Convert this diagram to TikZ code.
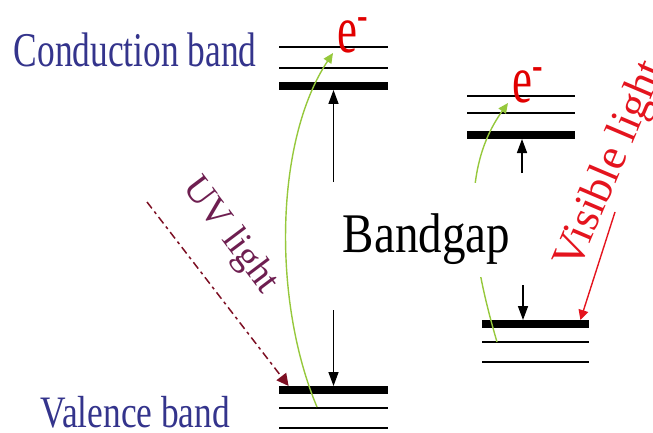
\documentclass[tikz,border=0pt]{standalone}
\usepackage{fontspec}
\setmainfont{Liberation Serif}
\usepackage{xcolor}
\usetikzlibrary{arrows.meta, calc}

\definecolor{bandblue}{RGB}{52,52,140}
\definecolor{uvpurple}{RGB}{110,30,80}
\definecolor{uvred}{RGB}{125,15,35}
\definecolor{visred}{RGB}{228,20,30}
\definecolor{elred}{RGB}{225,0,0}
\definecolor{exgreen}{RGB}{150,200,60}

\begin{document}
\begin{tikzpicture}[
    x=0.5pt,
    y=0.5pt,
    level/.style={rectangle, fill=black, inner sep=0pt, minimum width=54.5pt,
                  minimum height=1.2pt},
    edge/.style={level, minimum height=3.6pt},
    lbl/.style={inner sep=0pt, font=\fontsize{17.7}{20}\selectfont,
                text=bandblue},
    elec/.style={inner sep=2pt, font=\fontsize{22.5}{26}\selectfont,
                 text=elred},
    gaparrow/.style={-{Triangle[length=7pt, width=5pt]}, line width=0.75pt},
    excite/.style={-{Triangle[length=5pt, width=4.5pt]}, line width=0.7pt,
                   color=exgreen},
    uvarrow/.style={-{Triangle[length=6pt, width=6pt]}, line width=0.75pt,
                    color=uvred, dash pattern=on 4pt off 2pt on 1.5pt off 2pt},
    visarrow/.style={-{Triangle[length=5pt, width=5pt]}, line width=0.7pt,
                     color=visred},
]
\useasboundingbox (0,0) rectangle (653,-433);

\node[level] (lc1) at (333.5,-47)  {};
\node[level] (lc2) at (333.5,-68)  {};
\node[edge]  (lcb) at (333.5,-86)  {};
\node[edge]  (lvb) at (333.5,-390) {};
\node[level] (lv2) at (333.5,-408) {};
\node[level] (lv3) at (333.5,-428) {};

\node[level, minimum width=54pt] (rc1) at (521,-96)  {};
\node[level, minimum width=54pt] (rc2) at (521,-113) {};
\node[edge,  minimum width=54pt] (rcb) at (521,-135) {};
\node[edge,  minimum width=53.5pt] (rvb) at (535.5,-324) {};
\node[level, minimum width=53.5pt] (rv2) at (535.5,-342) {};
\node[level, minimum width=53.5pt] (rv3) at (535.5,-362) {};

\node[lbl, anchor=base east] (cb) at (257,-67)
    {\scalebox{1}[1.37]{Conduction band}};
\node[lbl, anchor=base west] (vb) at (40,-427)
    {\scalebox{1}[1.27]{Valence band}};

\node[elec, anchor=base west] (e1) at (333,-53)
    {\scalebox{1}[1.5]{e\textsuperscript{-}}};
\node[elec, anchor=base west] (e2) at (508,-103)
    {\scalebox{1}[1.5]{e\textsuperscript{-}}};

\coordinate (lexc) at (317,-407);
\coordinate (rexc) at (497,-342);
\draw[excite] (lexc) .. controls (272,-300) and (275,-140) .. (e1.base west);
\draw[excite] (rexc) .. controls (470,-250) and (460,-170) .. (e2.base west);

\node[font=\fontsize{23.5}{28}\selectfont, fill=white, inner xsep=3pt,
      inner ysep=0pt, text height=34.5pt, text depth=12.5pt, anchor=base]
    (gap) at (426.5,-252) {\scalebox{1}[1.19]{Bandgap}};

\coordinate (lup) at (333.5,-182);
\coordinate (ldn) at (333.5,-310);
\coordinate (rup) at (522,-173);
\coordinate (rdn) at (523,-285);
\draw[gaparrow] (lup) -- (lcb.south);
\draw[gaparrow] (ldn) -- (lvb.north);
\draw[gaparrow] (rup) -- (rup |- rcb.south);
\draw[gaparrow] (rdn) -- (rdn |- rvb.north);

\coordinate (uvsrc) at (147,-202);
\draw[uvarrow] (uvsrc) -- ([xshift=5pt]lvb.north west);
\node[rotate=-53, text=uvpurple, font=\fontsize{19}{22}\selectfont]
    (uv) at (230,-236) {UV light};

\coordinate (vissrc) at (615,-212);
\draw[visarrow] (vissrc) -- ([xshift=-4.5pt]rvb.north east);
\node[rotate=67, anchor=base west, inner sep=0pt, text=visred,
      font=\fontsize{22.5}{26}\selectfont] (vis) at (578,-272) {Visible light};
\end{tikzpicture}
\end{document}
